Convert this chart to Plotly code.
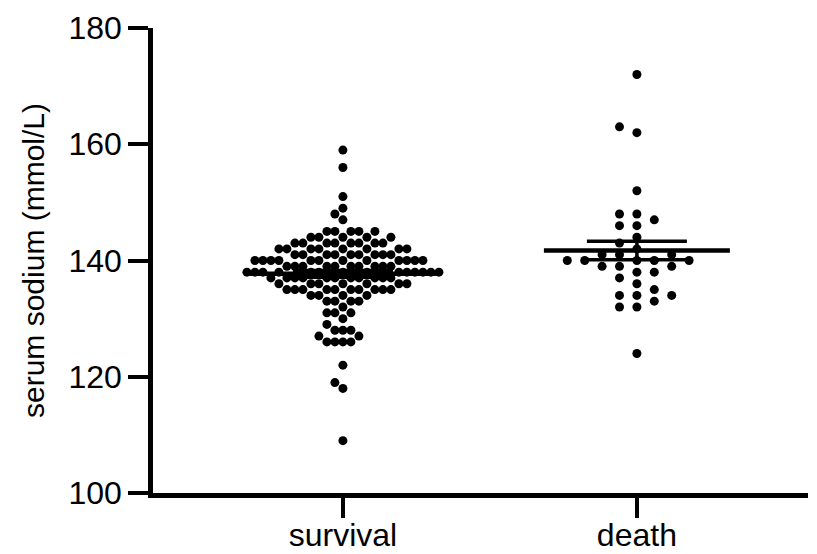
import numpy as np
import plotly.graph_objects as go

# ---------------- data ----------------
groups = ["survival", "death"]

survival_sodium = [159, 156, 151, 149, 148, 147, 145, 144, 143, 142, 141, 140, 139, 138,
                   137, 136, 135, 134, 133, 132, 131, 130, 129, 128, 127, 126, 122, 119, 118, 109]
survival_counts = [1, 1, 1, 1, 1, 1, 5, 5, 8, 8, 9, 12, 10, 14,
                   11, 7, 10, 4, 4, 1, 3, 1, 1, 3, 2, 4, 1, 1, 1, 1]

death_sodium = [172, 163, 162, 152, 148, 147, 146, 144, 143, 142, 141, 140, 139, 138,
                137, 136, 135, 134, 133, 132, 124]
death_counts = [1, 1, 1, 1, 2, 1, 2, 1, 1, 1, 3, 5, 3, 2,
                1, 1, 1, 3, 1, 2, 1]

y_ticks = [100, 120, 140, 160, 180]
y_title = "serum sodium (mmol/L)"

# ---------------- layout constants ----------------
W, H = 817, 554
ML, MR, MT, MB = 153, 9, 28, 61
X_RANGE = [-0.646, 1.582]
Y_RANGE = [100, 180]
FONT = "Liberation Sans, Arial, sans-serif"

px_per_x = (W - ML - MR) / (X_RANGE[1] - X_RANGE[0])


def swarm(values, counts, pitch):
    """Greedy beeswarm in pixel offsets, rows processed bottom-up.
    Points of the same or adjacent values must be >= pitch apart horizontally."""
    rows = sorted(zip(values, counts), key=lambda t: t[0])
    placed = {}
    out = []
    lim = pitch * 0.99
    for v, n in rows:
        nb = placed.get(v - 1, []) + placed.get(v + 1, [])
        row = []
        for _ in range(n):
            others = nb + row
            cands = {0.0}
            for x in others:
                cands.add(x + pitch)
                cands.add(x - pitch)
            left = sum(1 for x in row if x < -1e-6)
            right = sum(1 for x in row if x > 1e-6)
            pref = 1 if left > right else -1
            ok = [c for c in cands if all(abs(c - x) >= lim for x in others)]
            best = min(ok, key=lambda c: (round(abs(c), 3), 0 if c * pref >= 0 else 1))
            row.append(best)
        placed[v] = row
        out += [(v, x) for x in row]
    return out


fig = go.Figure()

group_data = [(survival_sodium, survival_counts, 8.0), (death_sodium, death_counts, 17.4)]
for gi, (vals, cnts, pitch) in enumerate(group_data):
    pts = swarm(vals, cnts, pitch)
    xs = [gi + p[1] / px_per_x for p in pts]
    ys = [p[0] for p in pts]
    fig.add_trace(go.Scatter(x=xs, y=ys, mode="markers",
                             marker=dict(color="black", size=9, line=dict(width=0)),
                             showlegend=False, hoverinfo="y"))

    obs = np.repeat(np.array(vals, dtype=float), cnts)
    m = obs.mean()
    sem = obs.std(ddof=1) / np.sqrt(len(obs))
    half_mean = 93 / px_per_x
    half_cap = 50 / px_per_x
    fig.add_trace(go.Scatter(x=[gi - half_mean, gi + half_mean], y=[m, m], mode="lines",
                             line=dict(color="black", width=4.5), showlegend=False, hoverinfo="skip"))
    for yy in (m - sem, m + sem):
        fig.add_trace(go.Scatter(x=[gi - half_cap, gi + half_cap], y=[yy, yy], mode="lines",
                                 line=dict(color="black", width=3.5), showlegend=False, hoverinfo="skip"))
    fig.add_trace(go.Scatter(x=[gi, gi], y=[m - sem, m + sem], mode="lines",
                             line=dict(color="black", width=3.5), showlegend=False, hoverinfo="skip"))

axis_common = dict(showline=True, linewidth=4.5, linecolor="black", ticks="outside",
                   ticklen=20, tickwidth=4, tickcolor="black", showgrid=False, zeroline=False,
                   automargin=False,
                   tickfont=dict(family=FONT, size=32, color="black"))

fig.update_layout(
    width=W, height=H,
    margin=dict(l=ML, r=MR, t=MT, b=MB, pad=0),
    paper_bgcolor="white", plot_bgcolor="white",
    xaxis=dict(range=X_RANGE, tickvals=[0, 1], ticktext=groups, ticklabelstandoff=-10,
               **axis_common),
    yaxis=dict(range=Y_RANGE, tickvals=y_ticks, ticktext=[str(t) for t in y_ticks],
               title=dict(text=y_title, font=dict(family=FONT, size=30, color="black"), standoff=16),
               **axis_common),
)

fig.write_html("out.html")
